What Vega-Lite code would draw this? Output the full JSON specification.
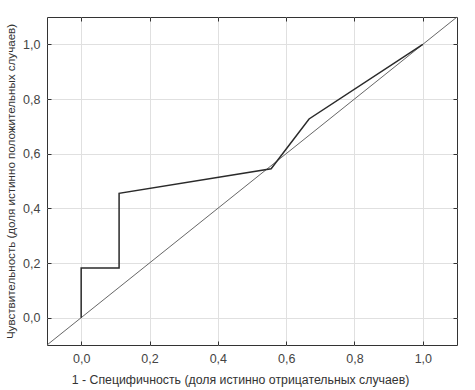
{
  "$schema": "https://vega.github.io/schema/vega-lite/v6.json",
  "width": 410,
  "height": 328,
  "autosize": "none",
  "padding": {"left": 47, "top": 17, "right": 18, "bottom": 45},
  "background": "white",
  "config": {
    "view": {"stroke": "#333", "strokeWidth": 1},
    "axis": {
      "labelFont": "Liberation Sans",
      "titleFont": "Liberation Sans",
      "labelFontSize": 12.5,
      "titleFontSize": 12.3,
      "titleFontWeight": "normal",
      "labelColor": "#444",
      "titleColor": "#333",
      "domain": false,
      "tickColor": "#333",
      "tickSize": -4,
      "gridColor": "#e0e0e0",
      "gridWidth": 1
    }
  },
  "datasets": {
    "diag": [
      {"x": -0.1, "y": -0.1},
      {"x": 1.1, "y": 1.1}
    ],
    "roc": [
      {"i": 0, "x": 0, "y": 0},
      {"i": 1, "x": 0, "y": 0.182},
      {"i": 2, "x": 0.111, "y": 0.182},
      {"i": 3, "x": 0.111, "y": 0.455},
      {"i": 4, "x": 0.556, "y": 0.545},
      {"i": 5, "x": 0.667, "y": 0.727},
      {"i": 6, "x": 1, "y": 1}
    ]
  },
  "layer": [
    {
      "data": {"name": "diag"},
      "mark": {"type": "line", "color": "#555", "strokeWidth": 0.9},
      "encoding": {
        "x": {
          "field": "x", "type": "quantitative",
          "scale": {"domain": [-0.1, 1.1], "nice": false, "zero": false},
          "axis": {
            "orient": "bottom",
            "values": [0, 0.2, 0.4, 0.6, 0.8, 1.0],
            "labelExpr": "replace(format(datum.value, '.1f'), '.', ',')",
            "labelPadding": 11,
            "title": "1 - Специфичность (доля истинно отрицательных случаев)",
            "titlePadding": 9,
            "titleX": 193
          }
        },
        "y": {
          "field": "y", "type": "quantitative",
          "scale": {"domain": [-0.1, 1.1], "nice": false, "zero": false},
          "axis": {
            "orient": "left",
            "values": [0, 0.2, 0.4, 0.6, 0.8, 1.0],
            "labelExpr": "replace(format(datum.value, '.1f'), '.', ',')",
            "labelPadding": 11,
            "title": "Чувствительность  (доля истинно положительных случаев)",
            "titleFontSize": 11.6,
            "titlePadding": 6
          }
        }
      }
    },
    {
      "data": {"name": "roc"},
      "mark": {"type": "line", "color": "#2a2a2a", "strokeWidth": 1.5},
      "encoding": {
        "x": {
          "field": "x", "type": "quantitative",
          "scale": {"domain": [-0.1, 1.1], "nice": false, "zero": false},
          "axis": {"orient": "top", "values": [0, 0.2, 0.4, 0.6, 0.8, 1.0], "labels": false, "grid": false, "title": null}
        },
        "y": {
          "field": "y", "type": "quantitative",
          "scale": {"domain": [-0.1, 1.1], "nice": false, "zero": false},
          "axis": {"orient": "right", "values": [0, 0.2, 0.4, 0.6, 0.8, 1.0], "labels": false, "grid": false, "title": null}
        },
        "order": {"field": "i", "type": "quantitative"}
      }
    }
  ],
  "resolve": {"axis": {"x": "independent", "y": "independent"}}
}
